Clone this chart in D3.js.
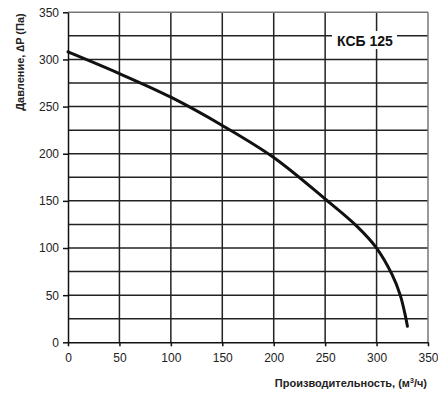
<!DOCTYPE html>
<html>
<head>
<meta charset="utf-8">
<script src="https://cdn.jsdelivr.net/npm/d3@7"></script>
<style>
  body { margin: 0; background: #fff; }
  text { font-family: "Liberation Sans", Arial, sans-serif; }
</style>
</head>
<body>
<script>
// curve
const flow = [0, 50, 100, 150, 200, 250, 280, 300, 315, 323, 328, 330];
const pressure = [308, 285, 260, 230, 196, 152, 124, 100, 72, 50, 28, 17];
const xTicks = [0, 50, 100, 150, 200, 250, 300, 350];
const yTicks = [0, 50, 100, 150, 200, 250, 300, 350];
const yGrid = [25, 50, 75, 100, 125, 150, 175, 200, 225, 250, 275, 300, 325];
const modelLabel = 'КСБ 125';

function main()
{
    const width = 438, height = 393;
    const svg = d3.select('body').append('svg')
        .attr('width', width)
        .attr('height', height);

    const x = d3.scaleLinear().domain([0, 350]).range([68, 428]);
    const y = d3.scaleLinear().domain([0, 350]).range([342.3, 12.3]);

    // grid
    svg.append('g').selectAll('line')
        .data(yGrid).enter().append('line')
        .attr('x1', x(0)).attr('x2', x(350))
        .attr('y1', d => y(d)).attr('y2', d => y(d))
        .attr('stroke', '#222').attr('stroke-width', 1.5);
    svg.append('g').selectAll('line')
        .data(xTicks.slice(1, -1)).enter().append('line')
        .attr('x1', d => x(d)).attr('x2', d => x(d))
        .attr('y1', y(0)).attr('y2', y(350))
        .attr('stroke', '#222').attr('stroke-width', 1.5);
    // frame top / right
    svg.append('line')
        .attr('x1', x(0)).attr('x2', x(350)).attr('y1', y(350)).attr('y2', y(350))
        .attr('stroke', '#777').attr('stroke-width', 1.5);
    svg.append('line')
        .attr('x1', x(350)).attr('x2', x(350)).attr('y1', y(0)).attr('y2', y(350))
        .attr('stroke', '#777').attr('stroke-width', 1.5);

    // axes
    const xAxis = svg.append('g')
        .attr('transform', `translate(0,${y(0)})`)
        .call(d3.axisBottom(x).tickValues(xTicks).tickSize(4).tickPadding(7).tickSizeOuter(0));
    const yAxis = svg.append('g')
        .attr('transform', `translate(${x(0)},0)`)
        .call(d3.axisLeft(y).tickValues(yTicks).tickSize(5).tickPadding(4).tickSizeOuter(0));
    [xAxis, yAxis].forEach(a => {
        a.selectAll('path, line').attr('stroke', '#111').attr('stroke-width', 1.5);
        a.selectAll('text')
            .attr('fill', '#222')
            .style('font-size', '12px')
            .style('font-family', '"Liberation Sans", Arial, sans-serif');
    });

    // curve
    const pts = flow.map((f, i) => [f, pressure[i]]);
    svg.append('path')
        .datum(pts)
        .attr('fill', 'none')
        .attr('stroke', '#111')
        .attr('stroke-width', 3)
        .attr('stroke-linecap', 'round')
        .attr('d', d3.line()
            .curve(d3.curveCatmullRom.alpha(0.5))
            .x(d => x(d[0]))
            .y(d => y(d[1])));

    // model label with white background
    svg.append('rect')
        .attr('x', 332).attr('y', 31)
        .attr('width', 65).attr('height', 18)
        .attr('fill', '#fff');
    svg.append('text')
        .attr('x', 365).attr('y', 45.5)
        .attr('text-anchor', 'middle')
        .style('font-size', '14px')
        .style('font-weight', 'bold')
        .attr('fill', '#111')
        .text(modelLabel);

    // axis titles
    const xt = svg.append('text')
        .attr('x', 427).attr('y', 387)
        .attr('text-anchor', 'end')
        .style('font-size', '11px')
        .style('font-weight', 'bold')
        .attr('fill', '#222');
    xt.append('tspan').text('Производительность, (м');
    xt.append('tspan').attr('dy', -4).style('font-size', '7px').text('3');
    xt.append('tspan').attr('dy', 4).text('/ч)');

    svg.append('text')
        .attr('transform', 'translate(24,62) rotate(-90)')
        .attr('text-anchor', 'middle')
        .style('font-size', '11px')
        .style('font-weight', 'bold')
        .attr('fill', '#222')
        .text('Давление, ∆P (Па)');
}

main();
</script>
</body>
</html>
